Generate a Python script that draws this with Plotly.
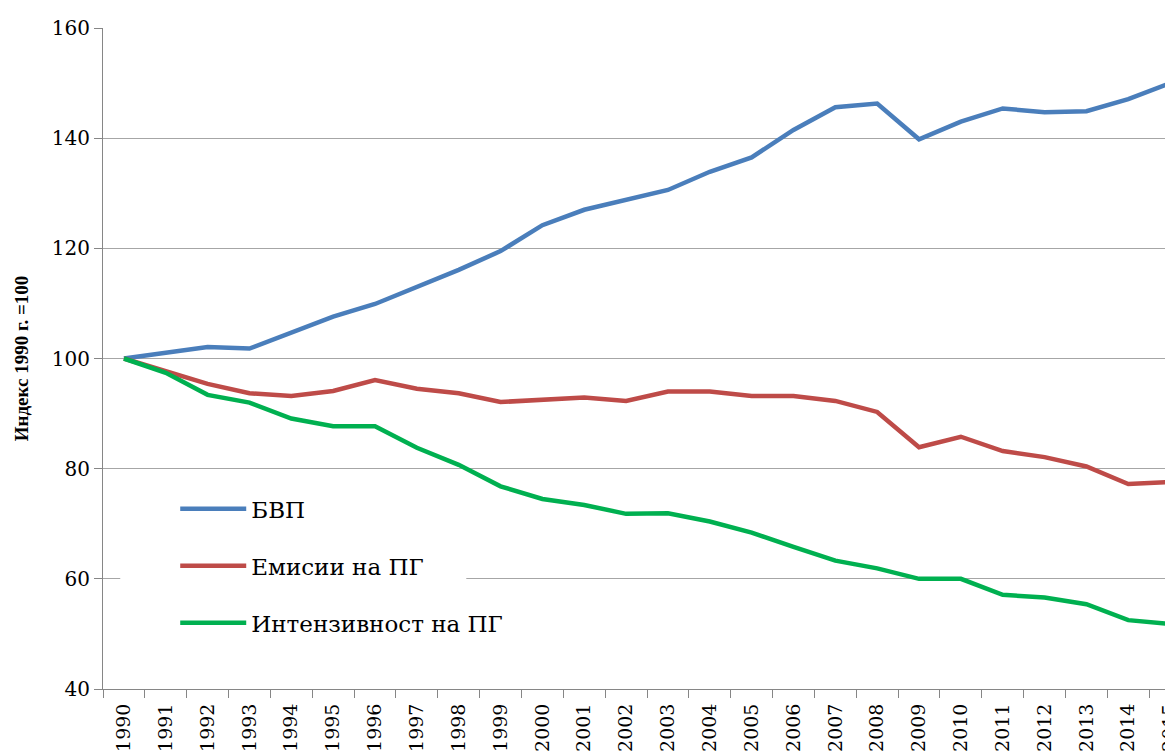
"""GDP, GHG emissions and GHG intensity index chart (1990 = 100)."""

import plotly.graph_objects as go

years = [str(y) for y in range(1990, 2016)]

gdp = [100.0, 101.0, 102.1, 101.8, 104.8, 107.6, 109.9, 113.0, 116.1, 119.5,
       124.2, 127.0, 128.9, 130.6, 133.9, 136.5, 141.5, 145.6, 146.3, 139.8,
       143.0, 145.4, 144.7, 144.9, 147.1, 150.0]

emissions = [100.0, 97.8, 95.4, 93.7, 93.2, 94.1, 96.1, 94.5, 93.7, 92.1,
             92.4, 92.9, 92.3, 94.0, 94.0, 93.2, 93.2, 92.3, 90.3, 83.9,
             85.8, 83.2, 82.1, 80.4, 77.2, 77.6]

intensity = [100.0, 97.4, 93.4, 92.0, 89.1, 87.7, 87.7, 83.8, 80.7, 76.8,
             74.5, 73.4, 71.8, 71.9, 70.4, 68.4, 65.8, 63.3, 61.9, 60.0,
             60.0, 57.1, 56.6, 55.4, 52.5, 51.8]

series = [
    ("БВП", gdp, "#4a7ebb"),
    ("Емисии на ПГ", emissions, "#be4b48"),
    ("Интензивност на ПГ", intensity, "#00b050"),
]

SERIF = "DejaVu Serif"
BOLD_SERIF = "Times New Roman"

fig = go.Figure()
for name, vals, color in series:
    fig.add_trace(go.Scatter(x=years, y=vals, name=name, mode="lines",
                             legendgroup=name,
                             line=dict(color=color, width=4.5)))

# legend box hides the 60 gridline only where the legend sits (as in Excel)
fig.add_shape(type="rect", xref="paper", yref="paper",
              x0=0.016, x1=0.337, y0=0.15, y1=0.18,
              fillcolor="white", line_width=0, layer="above")

fig.update_layout(
    width=1173, height=752,
    margin=dict(l=95, r=0, t=20, b=71),
    paper_bgcolor="white", plot_bgcolor="white",
    font=dict(family=SERIF, color="black"),
    showlegend=True,
    legend=dict(x=0.067, y=0.305, xanchor="left", yanchor="top",
                bgcolor="rgba(0,0,0,0)", borderwidth=0,
                font=dict(family=SERIF, size=23, color="black"),
                tracegroupgap=24, itemwidth=66),
)

fig.update_xaxes(
    type="category", range=[-0.5, 25.26], automargin=False,
    tickson="boundaries", ticks="outside", ticklen=8, tickcolor="#868686",
    tickangle=-90, ticklabelstandoff=6,
    tickfont=dict(family=SERIF, size=19, color="black"),
    showgrid=False, showline=True, linecolor="#868686", linewidth=1,
)

fig.update_yaxes(
    range=[40, 160], dtick=20, automargin=False,
    ticks="outside", ticklen=8, tickcolor="#868686",
    tickfont=dict(family=SERIF, size=20, color="black"),
    showgrid=True, gridcolor="#a6a6a6", gridwidth=1,
    showline=True, linecolor="#868686", linewidth=1,
    zeroline=False,
    title=dict(text="<b>Индекс 1990 г. =100</b>", standoff=18,
               font=dict(family=BOLD_SERIF, size=19, color="black")),
)

fig.write_html("out.html")
